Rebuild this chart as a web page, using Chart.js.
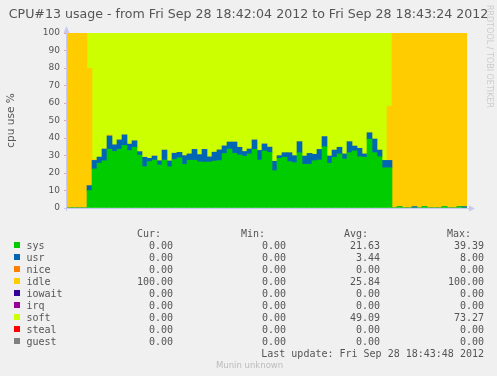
<!DOCTYPE html>
<html lang="en">
<head>
<meta charset="UTF-8">
<title>CPU#13 usage</title>
<script src="https://cdn.jsdelivr.net/npm/chart.js"></script>
<style>
    body { margin: 0; background: #f0f0f0; }
    #wrap { position: relative; width: 497px; height: 376px; overflow: hidden; }
    #chart { position: absolute; left: 0; top: 0; }
    #title {
        position: absolute; left: 0; top: 6px; width: 497px;
        text-align: center;
        font-family: "DejaVu Sans", sans-serif; font-size: 12.6px; line-height: 15px;
        color: #555; white-space: pre;
    }
    .t {
        position: absolute;
        font-family: "DejaVu Sans Mono", monospace;
        font-size: 10px;
        line-height: 12px;
        color: #555;
        white-space: pre;
    }
    .sq { position: absolute; width: 6px; height: 6px; }
    #munin {
        position: absolute; left: 216px; top: 359.5px;
        font-family: "DejaVu Sans", sans-serif; font-size: 8.5px; line-height: 10px;
        color: #bbb; white-space: pre;
    }
    #rrd {
        position: absolute; left: 485px; top: 5px;
        writing-mode: vertical-rl;
        font-family: "DejaVu Sans", sans-serif; font-size: 8px; line-height: 8px;
        color: #ccc; white-space: pre;
    }
</style>
</head>
<body>
<div id="wrap">
    <canvas id="chart" width="497" height="376"></canvas>
    <div id="title">CPU#13 usage - from Fri Sep 28 18:42:04 2012 to Fri Sep 28 18:43:24 2012</div>
    <div id="legend"></div>
    <div id="munin">Munin unknown</div>
    <div id="rrd">RRDTOOL / TOBI OETIKER</div>
</div>
<script>
// one step per second, 18:42:04 .. 18:43:23
const startSeconds = 18 * 3600 + 42 * 60 + 4;
const stepCount = 80;
const timeLabels = [];
for (let i = 0; i < stepCount; i++) {
    const s = startSeconds + i;
    const hh = String(Math.floor(s / 3600)).padStart(2, '0');
    const mm = String(Math.floor(s / 60) % 60).padStart(2, '0');
    const ss = String(s % 60).padStart(2, '0');
    timeLabels.push(hh + ':' + mm + ':' + ss);
}

const sysData = [
    0, 0, 0, 0, 10, 22.3, 25.6, 27, 33.6, 32.3,
    33.6, 35.7, 32.8, 34.7, 30.2, 23.6, 26.5, 27.4, 24.6, 27.4,
    23.6, 27.7, 28.7, 24.9, 27.3, 27.3, 26.4, 26.2, 26.3, 26.8,
    27.1, 31.1, 33.7, 31.2, 30.3, 29.5, 30.9, 33.5, 27.4, 32.6,
    31.8, 21.3, 28.4, 29, 26.5, 25.9, 31.6, 25, 25, 27,
    27.4, 35, 25.5, 29, 30.9, 28, 31.6, 32.6, 29.3, 29,
    39.39, 31.6, 29.3, 23, 23, 0, 0.8, 0, 0, 0,
    0, 0.8, 0, 0, 0, 0.8, 0, 0, 0.8, 0
];
const usrData = [
    0, 0, 0, 0, 2.8, 4.9, 3.5, 6.7, 7.6, 3.8,
    5.3, 6.1, 3.7, 3.7, 2.0, 5.4, 1.9, 2.3, 2.4, 5.7,
    3.3, 3.6, 3.1, 5, 3.6, 6.2, 4.1, 7.3, 2.9, 5.1,
    6.1, 4.4, 4.0, 6.5, 4.4, 2.8, 2.8, 5.4, 5.5, 4,
    3, 5.4, 1.5, 2.6, 5.1, 4, 6.3, 4.7, 6.2, 3.7,
    6.1, 5.8, 4.2, 4.1, 3.8, 2.9, 6.3, 2.8, 4.8, 1.9,
    3.6, 7.8, 3.8, 4.2, 4.2, 0, 0, 0, 0, 0.8,
    0, 0, 0, 0, 0, 0, 0, 0, 0, 0.8
];
const idleData = [
    100, 100, 100, 100, 67, 0.5, 0, 0, 0.6, 0,
    0, 0, 0, 0, 0, 0, 0, 0, 0, 0,
    0, 0, 0, 0, 0, 0, 0, 0, 0, 0,
    0, 0, 0, 0, 0, 0, 0, 0, 0, 0,
    0, 0, 0, 0, 0, 0, 0, 0, 0, 0,
    0, 0, 0, 0, 0, 0, 0, 0, 0, 0,
    0, 0, 0, 0, 31, 100, 99.2, 100, 100, 99.2,
    100, 99.2, 100, 100, 100, 99.2, 100, 100, 99.2, 99.2
];
const softData = [
    0, 0, 0, 0, 20.2, 72.3, 70.9, 66.3, 58.2, 63.9,
    61.1, 58.2, 63.5, 61.6, 67.8, 71, 71.6, 70.3, 73, 66.9,
    73.1, 68.7, 68.2, 70.1, 69.1, 66.5, 69.5, 66.5, 70.8, 68.1,
    66.8, 64.5, 62.3, 62.3, 65.3, 67.7, 66.3, 61.1, 67.1, 63.4,
    65.2, 73.3, 70.1, 68.4, 68.4, 70.1, 62.1, 70.3, 68.8, 69.3,
    66.5, 59.2, 70.3, 66.9, 65.3, 69.1, 62.1, 64.6, 65.9, 69.1,
    57, 60.6, 66.9, 72.8, 41.8, 0, 0, 0, 0, 0,
    0, 0, 0, 0, 0, 0, 0, 0, 0, 0
];

const yTicks = [0, 10, 20, 30, 40, 50, 60, 70, 80, 90, 100];

// legend table
const seriesNames = ['sys', 'usr', 'nice', 'idle', 'iowait', 'irq', 'soft', 'steal', 'guest'];
const seriesColors = ['#00CC00', '#0066B3', '#FF8000', '#FFCC00', '#330099', '#990099', '#CCFF00', '#FF0000', '#808080'];
const curValues = ['0.00', '0.00', '0.00', '100.00', '0.00', '0.00', '0.00', '0.00', '0.00'];
const minValues = ['0.00', '0.00', '0.00', '0.00', '0.00', '0.00', '0.00', '0.00', '0.00'];
const avgValues = ['21.63', '3.44', '0.00', '25.84', '0.00', '0.00', '49.09', '0.00', '0.00'];
const maxValues = ['39.39', '8.00', '0.00', '100.00', '0.00', '0.00', '73.27', '0.00', '0.00'];
const columnTitles = ['Cur:', 'Min:', 'Avg:', 'Max:'];
const lastUpdate = 'Last update: Fri Sep 28 18:43:48 2012';

function addText(text, left, right, top) {
    const d = document.createElement('div');
    d.className = 't';
    d.textContent = text;
    d.style.top = top + 'px';
    if (left !== null) d.style.left = left + 'px';
    if (right !== null) { d.style.right = (497 - right) + 'px'; d.style.textAlign = 'right'; }
    document.getElementById('legend').appendChild(d);
}

const headerLeft = [137, 241, 344, 447];
const valueRight = [173, 286, 380, 484];
columnTitles.forEach(function (t, i) { addText(t, headerLeft[i], null, 227.5); });
seriesNames.forEach(function (name, k) {
    const top = 239.5 + 12 * k;
    const sq = document.createElement('div');
    sq.className = 'sq';
    sq.style.left = '14px';
    sq.style.top = (242 + 12 * k) + 'px';
    sq.style.background = seriesColors[k];
    document.getElementById('legend').appendChild(sq);
    addText(name, 26.5, null, top);
    [curValues, minValues, avgValues, maxValues].forEach(function (col, i) {
        addText(col[k], null, valueRight[i], top);
    });
});
addText(lastUpdate, null, 484, 347.5);

// chart area background + axis lines with arrows (rrdtool look)
const plotBack = {
    id: 'plotBack',
    beforeDatasetsDraw(chart) {
        const a = chart.chartArea;
        chart.ctx.save();
        chart.ctx.fillStyle = '#ffffff';
        chart.ctx.fillRect(a.left, a.top, a.right - a.left, a.bottom - a.top);
        chart.ctx.restore();
    }
};
const axisArrows = {
    id: 'axisArrows',
    afterDraw(chart) {
        const ctx = chart.ctx, a = chart.chartArea;
        ctx.save();
        ctx.strokeStyle = '#c8c8f0';
        ctx.fillStyle = '#c8c8f0';
        ctx.lineWidth = 1;
        ctx.beginPath();
        ctx.moveTo(a.left - 0.5, a.bottom + 3);
        ctx.lineTo(a.left - 0.5, a.top - 2);
        ctx.moveTo(a.left - 3, a.bottom + 0.5);
        ctx.lineTo(a.right + 3, a.bottom + 0.5);
        ctx.stroke();
        ctx.beginPath();
        ctx.moveTo(a.left - 3.5, a.top);
        ctx.lineTo(a.left + 2.5, a.top);
        ctx.lineTo(a.left - 0.5, a.top - 7);
        ctx.closePath();
        ctx.fill();
        ctx.beginPath();
        ctx.moveTo(a.right + 2, a.bottom - 2.5);
        ctx.lineTo(a.right + 2, a.bottom + 3.5);
        ctx.lineTo(a.right + 8, a.bottom + 0.5);
        ctx.closePath();
        ctx.fill();
        ctx.restore();
    }
};

function bar(label, data, color) {
    return {
        label: label, data: data, backgroundColor: color,
        borderWidth: 0, barPercentage: 1, categoryPercentage: 1
    };
}

new Chart(document.getElementById('chart'), {
    type: 'bar',
    data: {
        labels: timeLabels,
        datasets: [
            bar('sys', sysData, '#00CC00'),
            bar('usr', usrData, '#0066B3'),
            bar('idle', idleData, '#FFCC00'),
            bar('soft', softData, '#CCFF00')
        ]
    },
    options: {
        responsive: false,
        animation: false,
        layout: { padding: { left: 0, right: 30, top: 33, bottom: 168 } },
        plugins: {
            legend: { display: false },
            tooltip: { enabled: false },
            title: { display: false }
        },
        scales: {
            x: {
                stacked: true,
                z: 1,
                ticks: { display: false, autoSkip: false },
                grid: {
                    drawTicks: false,
                    lineWidth: 1,
                    color: function (c) {
                        const l = timeLabels[c.index];
                        return l && (l.endsWith(':00') || l.endsWith(':30')) ? 'rgba(130,130,130,0.6)' : 'rgba(0,0,0,0)';
                    }
                },
                border: { display: false, dash: [1, 1] },
                afterFit: function (s) { s.height = 0; }
            },
            y: {
                stacked: true,
                min: 0,
                max: 100,
                z: 1,
                afterFit: function (s) { s.width = 67; },
                ticks: {
                    stepSize: 5,
                    padding: 4,
                    color: '#555',
                    font: { family: 'DejaVu Sans', size: 9 },
                    callback: function (v) { return yTicks.indexOf(v) >= 0 ? String(v) : ''; }
                },
                grid: {
                    tickLength: 3,
                    lineWidth: 1,
                    color: function (c) {
                        if (!c.tick || c.tick.value === 0) return 'rgba(0,0,0,0)';
                        return c.tick.value % 10 === 0 ? 'rgba(255,60,60,0.45)' : 'rgba(128,128,128,0.4)';
                    }
                },
                border: { display: false, dash: [1, 1] },
                title: {
                    display: true,
                    text: 'cpu use %',
                    color: '#555',
                    font: { family: 'DejaVu Sans', size: 10.5, lineHeight: 1.2 },
                    padding: { top: 5, bottom: 0 }
                }
            }
        }
    },
    plugins: [plotBack, axisArrows]
});
</script>
</body>
</html>
